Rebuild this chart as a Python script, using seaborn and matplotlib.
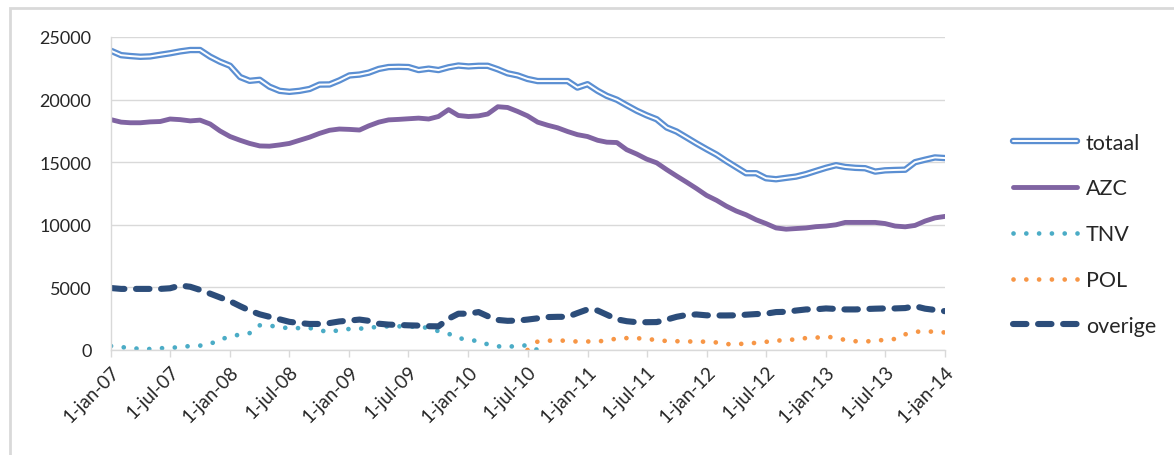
import numpy as np
import pandas as pd
import seaborn as sns
import matplotlib.pyplot as plt
import matplotlib.patheffects as pe
from matplotlib.patches import Rectangle

# %% data (monthly, 1 jan 2007 - 1 jan 2014)
months = pd.date_range("2007-01-01", "2014-01-01", freq="MS")

totaal = [23900, 23550, 23480, 23420, 23450, 23580, 23700, 23850, 23960, 23960,
          23430, 23030, 22700, 21800, 21500, 21580, 21030, 20700, 20620, 20700,
          20850, 21200, 21210, 21530, 21930, 22000, 22150, 22450, 22600, 22620,
          22600, 22360, 22470, 22360, 22580, 22720, 22650, 22700, 22700, 22420,
          22100, 21930, 21650, 21480, 21480, 21480, 21480, 20960, 21230, 20700,
          20300, 19990, 19550, 19110, 18750, 18430, 17770, 17450, 16970, 16500,
          16040, 15600, 15100, 14600, 14120, 14120, 13720, 13640, 13750, 13850,
          14050, 14300, 14550, 14760, 14620, 14550, 14520, 14250, 14350, 14380,
          14400, 15000, 15200, 15380, 15330]

azc = [18400, 18200, 18150, 18150, 18220, 18250, 18450, 18400, 18300, 18360,
       18050, 17500, 17050, 16750, 16500, 16300, 16280, 16380, 16500, 16750,
       17000, 17300, 17550, 17650, 17620, 17570, 17900, 18200, 18380, 18420,
       18470, 18520, 18450, 18650, 19200, 18730, 18650, 18700, 18850, 19430,
       19370, 19050, 18700, 18200, 17950, 17750, 17450, 17200, 17050, 16750,
       16600, 16570, 16000, 15650, 15250, 14950, 14400, 13900, 13400, 12900,
       12350, 11950, 11500, 11100, 10800, 10400, 10100, 9750, 9650, 9700,
       9750, 9850, 9900, 10000, 10190, 10190, 10190, 10190, 10100, 9900,
       9840, 9950, 10300, 10550, 10670]

# TNV: jan 2007 - aug 2010
tnv = [320, 230, 170, 80, 80, 140, 170, 230, 320, 350,
       480, 850, 1050, 1250, 1350, 1970, 1950, 1820, 1740, 1750,
       1760, 1580, 1420, 1600, 1680, 1700, 1780, 1850, 1890, 1890,
       1880, 1840, 1770, 1500, 1300, 950, 820, 700, 450, 300,
       220, 380, 350, 0]

# POL: jul 2010 - jan 2014
pol = [0, 680, 730, 800, 700, 680, 680, 690, 750, 920,
       950, 940, 900, 780, 720, 700, 690, 660, 670, 600,
       470, 460, 520, 570, 650, 760, 760, 870, 950, 980,
       1080, 960, 800, 700, 680, 730, 820, 880, 1250, 1450,
       1500, 1450, 1400]

overige = [4950, 4880, 4880, 4880, 4880, 4880, 4930, 5150, 5050, 4800,
           4500, 4200, 3900, 3500, 3150, 2850, 2650, 2450, 2250, 2150,
           2080, 2080, 2150, 2280, 2350, 2430, 2330, 2100, 2030, 2000,
           1970, 1950, 1900, 1890, 2500, 2900, 2900, 3030, 2700, 2400,
           2330, 2350, 2430, 2530, 2630, 2650, 2650, 2950, 3240, 3150,
           2820, 2450, 2300, 2220, 2220, 2230, 2430, 2650, 2800, 2840,
           2770, 2760, 2760, 2770, 2820, 2870, 2900, 3030, 3050, 3150,
           3240, 3250, 3320, 3280, 3240, 3240, 3270, 3300, 3320, 3320,
           3350, 3500, 3300, 3200, 3100]

tick_dates = pd.date_range("2007-01-01", "2014-01-01", freq="6MS")
tick_labels = [f"1-{'jan' if d.month == 1 else 'jul'}-{d.strftime('%y')}" for d in tick_dates]


def main():
    sns.set_theme(style="white")
    plt.rcParams["font.family"] = ["Lato", "DejaVu Sans"]

    fig = plt.figure(figsize=(11.74, 4.56), dpi=100)
    ax = fig.add_axes([111 / 1174, 1 - 351 / 456, (945 - 111) / 1174, (351 - 38) / 456])

    # chart frame (cut off at right / bottom like the screenshot)
    fig.patches.append(Rectangle((10 / 1174, -0.1), 1.2, 1.08, transform=fig.transFigure,
                                 fill=False, edgecolor="#d9d9d9", linewidth=2))

    sns.lineplot(x=months, y=totaal, ax=ax, color="white", lw=1.4, label="totaal",
                 path_effects=[pe.Stroke(linewidth=4.6, foreground="#5b8fd2"), pe.Normal()])
    sns.lineplot(x=months, y=azc, ax=ax, color="#8064a2", lw=3.5, label="AZC",
                 solid_capstyle="round")
    sns.lineplot(x=months[:len(tnv)], y=tnv, ax=ax, color="#4bacc6", lw=3.4, label="TNV",
                 linestyle=(0, (0.01, 2.7)), dash_capstyle="round")
    sns.lineplot(x=months[42:], y=pol, ax=ax, color="#f79646", lw=3.4, label="POL",
                 linestyle=(0, (0.01, 2.7)), dash_capstyle="round")
    sns.lineplot(x=months, y=overige, ax=ax, color="#2c4d7a", lw=4.4, label="overige",
                 linestyle=(0, (2.2, 1.9)), dash_capstyle="round")

    ax.set_xlim(months[0], months[-1])
    ax.set_ylim(0, 25000)
    ax.set_yticks(range(0, 25001, 5000))
    ax.set_xticks(tick_dates)
    ax.set_xticklabels(tick_labels, rotation=45, ha="right", rotation_mode="anchor")
    ax.set_xlabel("")
    ax.set_ylabel("")

    ax.grid(axis="y", color="#d9d9d9", lw=1)
    for s in ["top", "right"]:
        ax.spines[s].set_visible(False)
    for s in ["left", "bottom"]:
        ax.spines[s].set_color("#d9d9d9")
        ax.spines[s].set_linewidth(1)
    ax.tick_params(axis="x", direction="out", length=5, width=1, color="#d9d9d9",
                   labelsize=13.5, labelcolor="#262626", pad=4, bottom=True)
    ax.tick_params(axis="y", length=0, labelsize=13, labelcolor="#262626", pad=14)

    ax.legend(loc="center left", bbox_to_anchor=(0.846, 0.484), bbox_transform=fig.transFigure,
              frameon=False, fontsize=15.5, handlelength=3.0, handletextpad=0.4,
              labelspacing=1.2, labelcolor="#262626")

    fig.savefig("out.png", dpi=100)


if __name__ == "__main__":
    main()
